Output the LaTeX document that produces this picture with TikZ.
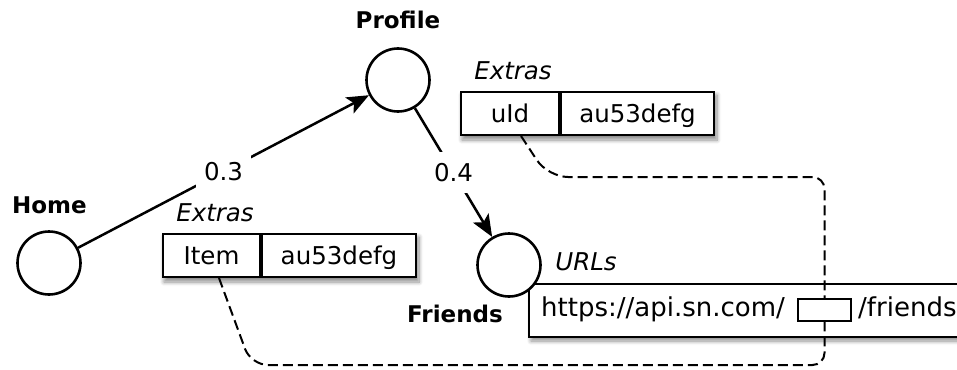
\documentclass[tikz,border=0pt]{standalone}
\usepackage{fontspec}
\setmainfont{DejaVu Sans}
\usetikzlibrary{arrows.meta,shadows.blur,backgrounds}

\begin{document}
\begin{tikzpicture}[x=1pt, y=-1pt,
  font=\fontsize{24.5pt}{29pt}\selectfont,
  state/.style={circle, draw, line width=2.6pt, minimum size=63pt, inner sep=0pt, fill=white},
  statelabel/.style={font=\fontsize{23pt}{28pt}\selectfont\bfseries, anchor=base, inner sep=0pt},
  tag/.style={font=\fontsize{24.5pt}{29pt}\selectfont\itshape, anchor=base, inner sep=0pt},
  cell/.style={draw, line width=2pt, fill=white, minimum height=43pt, inner sep=0pt,
    text height=18pt, text depth=0pt, anchor=north west},
  box shadow/.style={blur shadow={shadow xshift=2pt, shadow yshift=-4pt,
    shadow blur radius=4pt, shadow blur steps=8, shadow opacity=45}},
  edge/.style={line width=2.5pt, -{Stealth[length=22pt, width=18pt, inset=5pt]}},
  weight/.style={fill=white, inner xsep=8pt, inner ysep=11pt},
  link/.style={line width=2pt, dash pattern=on 10pt off 5pt},
  urltext/.style={font=\fontsize{26pt}{30pt}\selectfont, anchor=base west, inner sep=0pt},
]
\useasboundingbox (0,0) rectangle (957,369);
\clip (0,0) rectangle (957,369);

% URL template of Friends (drawn first so the state circle sits on top)
\node[tag] (urlstag) at (586,270) {URLs};
\node[cell, minimum width=470pt, minimum height=53pt, box shadow] (urlbox) at (528,283) {};
\node[urltext] (prefix) at (541,316) {https://api.sn.com/};
\node[urltext] (suffix) at (858,316) {/friends};

% states
\node[state] (home)    at (49,263) {};
\node[state] (profile) at (398,80) {};
\node[state] (friends) at (509,265) {};

\node[statelabel] (homelabel)    at (49.5,213) {Home};
\node[statelabel] (profilelabel) at (398,29)  {Profile};
\node[statelabel] (friendslabel) at (455,322) {Friends};

% transitions
\draw[edge] (home) -- node[weight] (w1) {0.3} (profile);
\draw[edge] (profile) -- node[weight] (w2) {0.4} (friends);

% extras on the transition into Profile
\node[tag] (extrasA) at (215,221) {Extras};
\node[cell, minimum width=97pt] (itemkey) at (162,233) {Item};
\node[cell, minimum width=154pt] (itemval) at (itemkey.north east) {au53defg};

% extras on the transition into Friends
\node[tag] (extrasB) at (513,79) {Extras};
\node[cell, minimum width=98pt] (uidkey) at (460,91) {uId};
\node[cell, minimum width=153pt] (uidval) at (uidkey.north east) {au53defg};

\begin{scope}[on background layer]
  \path[fill=white, box shadow] (itemkey.north west) rectangle (itemval.south east);
  \path[fill=white, box shadow] (uidkey.north west) rectangle (uidval.south east);
\end{scope}

% parameter links into the URL slot
\coordinate (upperbend) at (548,177);
\coordinate (lowerbend) at (251,365);
\node[draw, line width=2pt, minimum width=53pt, minimum height=22pt, inner sep=0pt,
  anchor=north west] (slot) at (797,298) {};
\draw[link] ([xshift=11pt]uidkey.south) [rounded corners=20pt] -- (upperbend)
  [rounded corners=12pt] -- (slot.north |- upperbend) -- (slot.north);
\draw[link] ([xshift=7.5pt]itemkey.south) [rounded corners=17pt] -- (lowerbend)
  [rounded corners=12pt] -- (slot.south |- lowerbend) -- (slot.south);
\end{tikzpicture}
\end{document}
